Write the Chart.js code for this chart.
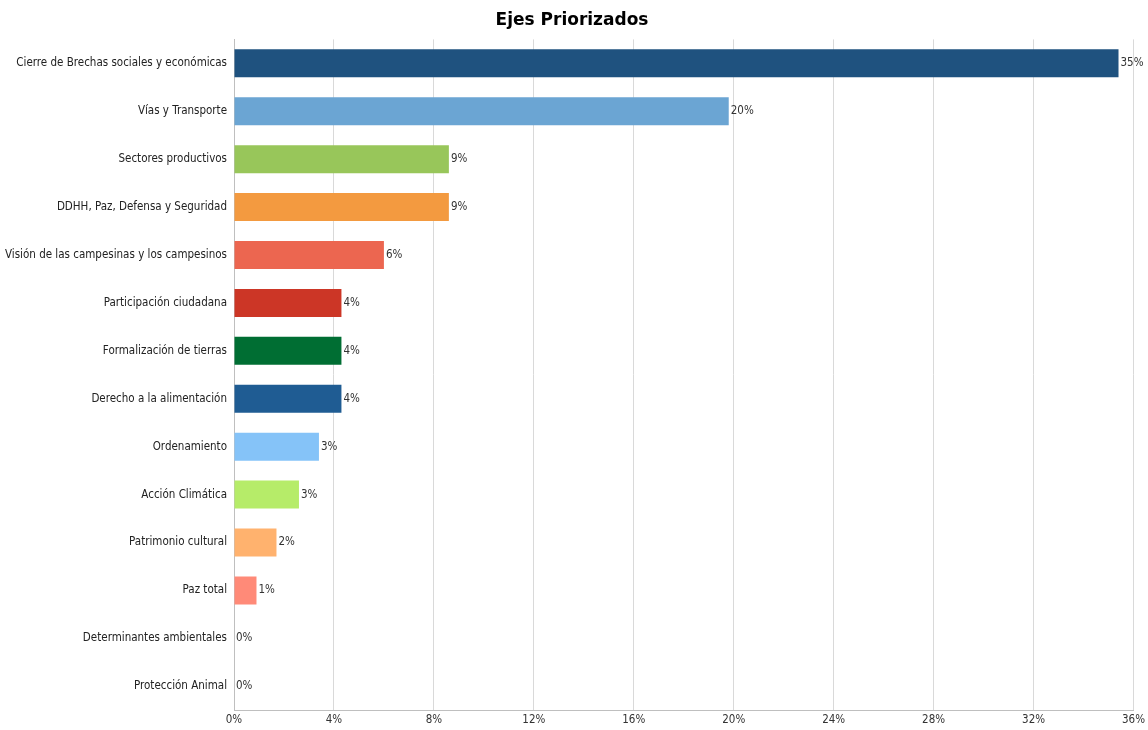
<!DOCTYPE html>
<html>
<head>
<meta charset="utf-8">
<script src="https://cdn.jsdelivr.net/npm/chart.js@4"></script>
<style>
  body { margin: 0; background: #fff; }
  #wrap { width: 1148px; height: 730px; position: relative; }
</style>
</head>
<body>
<div id="wrap"><canvas id="chart"></canvas></div>
<script>
// Ejes priorizados - porcentaje por eje
const categories = [
  'Cierre de Brechas sociales y económicas',
  'Vías y Transporte',
  'Sectores productivos',
  'DDHH, Paz, Defensa y Seguridad',
  'Visión de las campesinas y los campesinos',
  'Participación ciudadana',
  'Formalización de tierras',
  'Derecho a la alimentación',
  'Ordenamiento',
  'Acción Climática',
  'Patrimonio cultural',
  'Paz total',
  'Determinantes ambientales',
  'Protección Animal'
];
const shares = [35.4, 19.8, 8.6, 8.6, 6.0, 4.3, 4.3, 4.3, 3.4, 2.6, 1.7, 0.9, 0, 0];
const barColors = [
  '#1F527F', '#6BA5D3', '#98C65A', '#F39A40', '#EC6650', '#CC3626', '#006E33',
  '#1F5C93', '#85C3F8', '#B6EC69', '#FFB26E', '#FF8A78', '#A6A6A6', '#A6A6A6'
];
const xTicks = [0, 4, 8, 12, 16, 20, 24, 28, 32, 36];

// condensed face of DejaVu Sans, passed through the weight slot of the font string
const FONT = '"DejaVu Sans", sans-serif';
const NARROW = 'normal condensed';

// value labels at the end of each bar
const endLabels = {
  id: 'endLabels',
  afterDatasetsDraw(chart) {
    const ctx = chart.ctx;
    const meta = chart.getDatasetMeta(0);
    ctx.save();
    ctx.font = NARROW + ' 11.5px ' + FONT;
    ctx.fillStyle = '#333';
    ctx.textBaseline = 'middle';
    ctx.textAlign = 'left';
    meta.data.forEach((bar, i) => {
      ctx.fillText(Math.round(shares[i]) + '%', bar.x + 2, bar.y);
    });
    ctx.restore();
  }
};

new Chart(document.getElementById('chart'), {
  type: 'bar',
  data: {
    labels: categories,
    datasets: [{
      data: shares,
      backgroundColor: barColors,
      borderWidth: 0,
      categoryPercentage: 0.9,
      barPercentage: 0.65
    }]
  },
  options: {
    indexAxis: 'y',
    responsive: true,
    maintainAspectRatio: false,
    animation: false,
    layout: { padding: { left: 0, right: 4, top: 0, bottom: 0 } },
    plugins: {
      legend: { display: false },
      tooltip: { enabled: false },
      title: {
        display: true,
        text: 'Ejes Priorizados',
        color: '#000',
        font: { family: FONT, size: 17, weight: 'bold' },
        padding: { top: 10, bottom: 9 }
      }
    },
    scales: {
      x: {
        min: 0,
        max: 36,
        afterBuildTicks(scale) { scale.ticks = xTicks.map(v => ({ value: v })); },
        ticks: {
          callback: v => v + '%',
          color: '#333',
          font: { family: FONT, size: 11.5, weight: NARROW },
          padding: 3,
          maxRotation: 0
        },
        grid: { color: '#d9d9d9', drawTicks: false },
        border: { color: '#bfbfbf' }
      },
      y: {
        afterFit(scale) { scale.width = 234; },
        ticks: {
          color: '#222',
          font: { family: FONT, size: 11.5, weight: NARROW },
          padding: 7,
          autoSkip: false
        },
        grid: { display: false, drawTicks: false },
        border: { color: '#bfbfbf' }
      }
    }
  },
  plugins: [endLabels]
});
</script>
</body>
</html>
